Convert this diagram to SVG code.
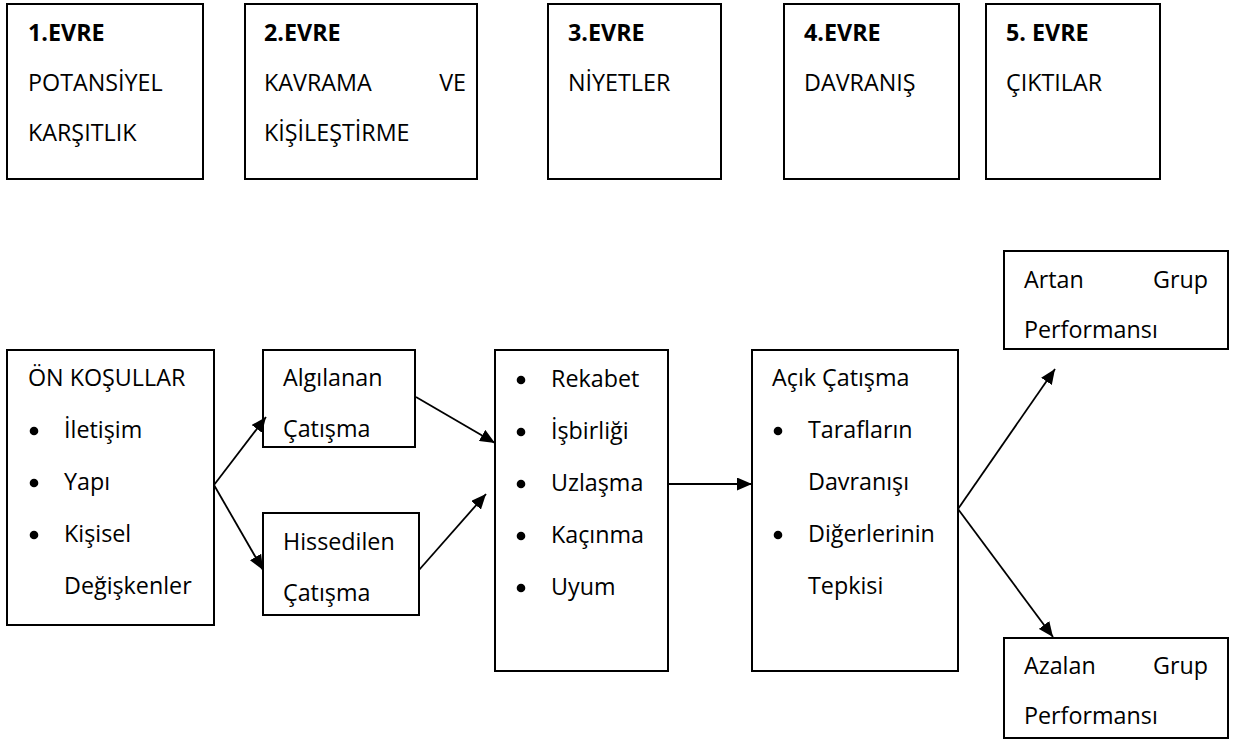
<svg xmlns="http://www.w3.org/2000/svg" width="1239" height="740" viewBox="0 0 1239 740">
<style>
.box{fill:#fff;stroke:#000;stroke-width:2}
text{font-family:"Open Sans","Noto Sans","DejaVu Sans",sans-serif;font-size:23.3px;fill:#000}
.b{font-weight:bold}
.e{text-anchor:end}
.dot{fill:#000}
.con line{stroke:#000;stroke-width:1.8;fill:none}
</style>
<defs>
<marker id="ah" markerUnits="userSpaceOnUse" markerWidth="16" markerHeight="13" refX="15" refY="6.5" orient="auto">
<path d="M0,0 L15,6.5 L0,13 z" fill="#000"/>
</marker>
</defs>

<g id="evre1">
<rect class="box" x="7" y="4" width="196" height="175"/>
<text class="b" x="28" y="41">1.EVRE</text>
<text x="28" y="91">POTANSİYEL</text>
<text x="28" y="141">KARŞITLIK</text>
</g>
<g id="evre2">
<rect class="box" x="245" y="4" width="232" height="175"/>
<text class="b" x="264" y="41">2.EVRE</text>
<text x="264" y="91">KAVRAMA</text>
<text class="e" x="466" y="91">VE</text>
<text x="264" y="141">KİŞİLEŞTİRME</text>
</g>
<g id="evre3">
<rect class="box" x="548" y="4" width="173" height="175"/>
<text class="b" x="568" y="41">3.EVRE</text>
<text x="568" y="91">NİYETLER</text>
</g>
<g id="evre4">
<rect class="box" x="784" y="4" width="175" height="175"/>
<text class="b" x="804" y="41">4.EVRE</text>
<text x="804" y="91">DAVRANIŞ</text>
</g>
<g id="evre5">
<rect class="box" x="986" y="4" width="174" height="175"/>
<text class="b" x="1006" y="41">5. EVRE</text>
<text x="1006" y="91">ÇIKTILAR</text>
</g>

<g id="onkosullar">
<rect class="box" x="7" y="350" width="207" height="275"/>
<text x="28" y="386">ÖN KOŞULLAR</text>
<circle class="dot" cx="34" cy="431" r="4.3"/>
<text x="64" y="438">İletişim</text>
<circle class="dot" cx="34" cy="483" r="4.3"/>
<text x="64" y="490">Yapı</text>
<circle class="dot" cx="34" cy="535" r="4.3"/>
<text x="64" y="542">Kişisel</text>
<text x="64" y="594">Değişkenler</text>
</g>

<g id="algilanan">
<rect class="box" x="263" y="350" width="152" height="97"/>
<text x="283" y="386">Algılanan</text>
<text x="283" y="437">Çatışma</text>
</g>

<g id="hissedilen">
<rect class="box" x="263" y="513" width="156" height="102"/>
<text x="283" y="550">Hissedilen</text>
<text x="283" y="601">Çatışma</text>
</g>

<g id="niyetler">
<rect class="box" x="495" y="350" width="173" height="321"/>
<circle class="dot" cx="521" cy="380" r="4.3"/>
<text x="551" y="387">Rekabet</text>
<circle class="dot" cx="521" cy="432" r="4.3"/>
<text x="551" y="439">İşbirliği</text>
<circle class="dot" cx="521" cy="484" r="4.3"/>
<text x="551" y="491">Uzlaşma</text>
<circle class="dot" cx="521" cy="536" r="4.3"/>
<text x="551" y="543">Kaçınma</text>
<circle class="dot" cx="521" cy="588" r="4.3"/>
<text x="551" y="595">Uyum</text>
</g>

<g id="acikcatisma">
<rect class="box" x="752" y="350" width="206" height="321"/>
<text x="772" y="386">Açık Çatışma</text>
<circle class="dot" cx="778" cy="431" r="4.3"/>
<text x="808" y="438">Tarafların</text>
<text x="808" y="490">Davranışı</text>
<circle class="dot" cx="778" cy="535" r="4.3"/>
<text x="808" y="542">Diğerlerinin</text>
<text x="808" y="594">Tepkisi</text>
</g>

<g id="artan">
<rect class="box" x="1004" y="251" width="224" height="98"/>
<text x="1024" y="288">Artan</text>
<text class="e" x="1208" y="288">Grup</text>
<text x="1024" y="338">Performansı</text>
</g>

<g id="azalan">
<rect class="box" x="1004" y="638" width="224" height="100"/>
<text x="1024" y="674">Azalan</text>
<text class="e" x="1208" y="674">Grup</text>
<text x="1024" y="724">Performansı</text>
</g>

<g id="connectors" class="con">
<line x1="214" y1="485" x2="266" y2="417" marker-end="url(#ah)"/>
<line x1="214" y1="485" x2="263" y2="570" marker-end="url(#ah)"/>
<line x1="416" y1="397" x2="495" y2="443" marker-end="url(#ah)"/>
<line x1="419" y1="570" x2="486" y2="494" marker-end="url(#ah)"/>
<line x1="668" y1="484" x2="752" y2="484" marker-end="url(#ah)"/>
<line x1="958" y1="509" x2="1055" y2="369" marker-end="url(#ah)"/>
<line x1="958" y1="509" x2="1053" y2="637" marker-end="url(#ah)"/>
</g>
</svg>
